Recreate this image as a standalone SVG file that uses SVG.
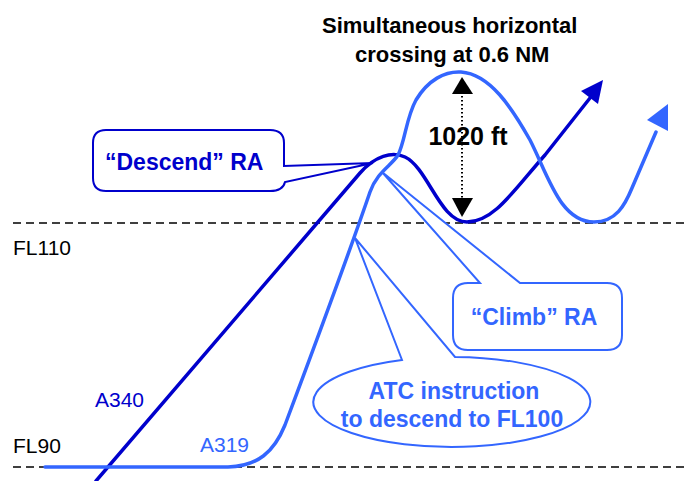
<svg xmlns="http://www.w3.org/2000/svg" width="688" height="481" viewBox="0 0 688 481">
<style>
.fl{stroke:#000;stroke-width:1.6;stroke-dasharray:8 5;fill:none}
.lbl{font-family:"Liberation Sans",Arial,sans-serif;font-size:21px}
.b{font-family:"Liberation Sans",Arial,sans-serif;font-weight:bold;font-size:22px}
.dk{fill:#0000CC}
.lt{fill:#3366FF}
.callD{fill:#fff;stroke:#0000CC;stroke-width:2}
.callL{fill:#fff;stroke:#3366FF;stroke-width:2}
.pathD{fill:none;stroke:#0000CC;stroke-width:3.5;stroke-linecap:round;stroke-linejoin:round}
.pathL{fill:none;stroke:#3366FF;stroke-width:3.5;stroke-linecap:round;stroke-linejoin:round}
</style>
<rect width="688" height="481" fill="#fff"/>
<g id="levels">
<line class="fl" x1="13" y1="223" x2="688" y2="223"/>
<line class="fl" x1="13" y1="467" x2="688" y2="467"/>
<text class="lbl" x="13" y="255" fill="#000">FL110</text>
<text class="lbl" x="13" y="453" fill="#000">FL90</text>
</g>
<g id="connectors">
<path id="a340" class="pathD" d="M96,481 L360,173 C375,156 392,151 405,157 C428,168 440,222 467,222 C494,222 514,190 545,155 L590,98"/>
<polygon fill="#0000CC" points="603,80 581,91 598,104"/>
<path id="a319" class="pathL" d="M45,467 L228,467 C258,466 274,452 285,425 C300,385 345,265 370,192 C377,172 392,165 398,155 C405,142 406,118 416,100 C428,80 445,71 461,72 C490,74 512,108 530,140 C548,175 560,222 594,222 C616,222 625,205 632,188 L656,132"/>
<polygon fill="#3366FF" points="668,104 647,120 668,131"/>
</g>
<g id="label-a340"><text class="lbl dk" x="95" y="407">A340</text></g>
<g id="label-a319"><text class="lbl lt" x="200" y="452">A319</text></g>
<g id="descend-ra">
<path class="callD" d="M106,130 H270 Q284,130 284,143 V166 L373,163 L285,182 Q283,191 270,191 H106 Q93,191 93,178 V143 Q93,130 106,130 Z"/>
<text class="b dk" x="105" y="170" style="font-size:23px">“Descend” RA</text>
</g>
<g id="climb-ra">
<path class="callL" d="M468,283 H480 L382,172 L520,283 H607 Q622,283 622,298 V335 Q622,350 607,350 H468 Q453,350 453,335 V298 Q453,283 468,283 Z"/>
<text class="b lt" x="534" y="325" text-anchor="middle" style="font-size:23px">“Climb” RA</text>
</g>
<g id="atc-instruction">
<path class="callL" d="M402,360 L355,238 L455,357 A138.5,45 0 1 1 402,360 Z"/>
<text class="b lt" x="454" y="399" text-anchor="middle" style="font-size:23px">ATC instruction</text>
<text class="b lt" x="452" y="427" text-anchor="middle" style="font-size:23px">to descend to FL100</text>
</g>
<g id="separation">
<line x1="462" y1="92" x2="462" y2="199" stroke="#000" stroke-width="2" stroke-dasharray="1.5 2.5"/>
<polygon fill="#000" points="462,77 452,94 473,94"/>
<polygon fill="#000" points="462,217 452,198 473,198"/>
<text class="b" x="468" y="145" text-anchor="middle" fill="#000" style="font-size:25px">1020 ft</text>
</g>
<g id="title">
<text class="b" x="322" y="33" fill="#000">Simultaneous horizontal</text>
<text class="b" x="355" y="62" fill="#000">crossing at 0.6 NM</text>
</g>
</svg>
